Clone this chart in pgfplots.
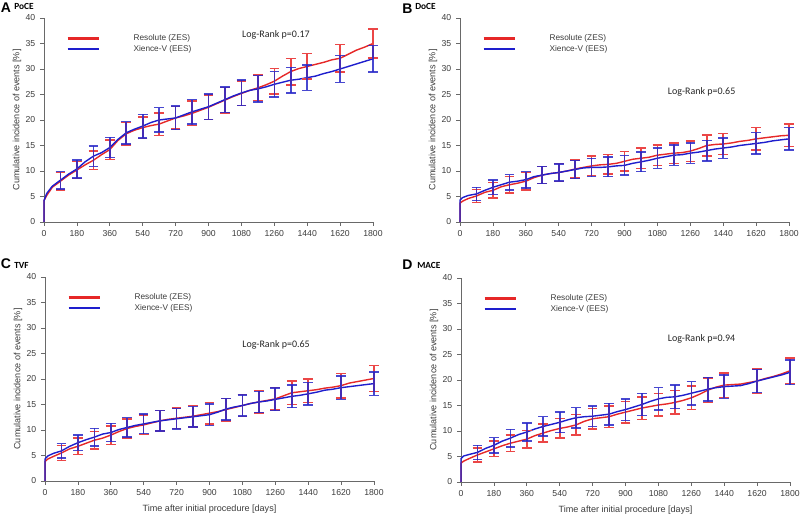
\documentclass[border=0pt]{standalone}
\usepackage{pgfplots}
\pgfplotsset{compat=1.18}
\usepackage{pgfplotstable}
\usepackage{fontspec}
\setmainfont{Liberation Sans}
\newfontfamily\calfont{Carlito}
\definecolor{kmred}{RGB}{230,40,40}
\definecolor{kmblue}{RGB}{30,30,205}
\definecolor{errred}{RGB}{235,70,70}
\definecolor{errblue}{RGB}{40,40,200}
\definecolor{txt}{RGB}{60,60,60}
\definecolor{axgray}{RGB}{105,105,105}

% curves: t, red (Resolute ZES), blue (Xience-V EES)
\pgfplotstableread{
t r b
0 0 0
0 4.2 4.2
15 5.2 5.6
45 6.8 7.0
90 8.0 8.2
135 9.2 9.4
180 10.2 10.4
225 11.2 11.8
270 12.1 12.9
315 13.2 13.6
360 14.2 14.6
405 16.0 16.2
450 17.3 17.5
495 18.0 18.2
540 18.5 18.8
585 18.9 19.5
630 19.2 20.0
675 19.8 20.2
720 20.4 20.4
765 20.8 21.0
810 21.3 21.6
855 21.9 22.1
900 22.5 22.6
945 23.2 23.3
990 23.9 24.0
1035 24.6 24.7
1080 25.2 25.3
1125 25.8 25.8
1170 26.3 26.1
1215 26.9 26.5
1260 27.6 27.0
1305 28.6 27.4
1350 29.5 27.8
1395 30.1 28.0
1440 30.5 28.3
1485 30.9 28.6
1530 31.3 29.1
1575 31.8 29.5
1620 32.1 30.0
1665 32.9 30.5
1710 33.7 31.0
1755 34.3 31.5
1800 35.0 32.0
}\curveA
\pgfplotstableread{
t r b
0 0 0
0 3.7 4.3
15 4.1 4.8
45 4.6 5.2
90 5.1 5.5
135 5.8 6.2
180 6.2 6.8
225 6.9 7.3
270 7.3 7.8
315 7.6 8.0
360 8.0 8.3
405 8.7 8.9
450 9.2 9.2
495 9.5 9.5
540 9.7 9.7
585 10.0 10.0
630 10.4 10.3
675 10.7 10.6
720 11.0 10.7
765 11.2 10.7
810 11.3 10.8
855 11.5 11.0
900 11.9 11.1
945 12.3 11.5
990 12.5 11.8
1035 12.7 12.1
1080 13.1 12.5
1125 13.3 12.8
1170 13.5 13.1
1215 13.6 13.2
1260 13.9 13.5
1305 14.4 13.7
1350 15.0 14.0
1395 15.2 14.3
1440 15.3 14.5
1485 15.5 14.7
1530 15.8 15.0
1575 16.0 15.2
1620 16.3 15.4
1665 16.5 15.6
1710 16.7 15.9
1755 16.9 16.1
1800 17.0 16.3
}\curveB
\pgfplotstableread{
t r b
0 0 0
0 3.8 4.3
15 4.3 4.9
45 4.8 5.4
90 5.5 5.9
135 6.3 6.8
180 6.8 7.5
225 7.4 8.1
270 8.0 8.6
315 8.4 9.2
360 9.0 9.5
405 9.7 10.1
450 10.3 10.5
495 10.7 10.9
540 11.0 11.2
585 11.4 11.5
630 11.8 11.8
675 12.1 12.0
720 12.3 12.2
765 12.5 12.4
810 12.7 12.6
855 13.0 12.8
900 13.3 13.0
945 13.6 13.5
990 14.0 14.1
1035 14.4 14.5
1080 14.8 14.8
1125 15.2 15.2
1170 15.5 15.5
1215 15.8 15.7
1260 16.1 16.0
1305 16.7 16.3
1350 17.3 16.6
1395 17.5 16.8
1440 17.7 17.1
1485 17.9 17.4
1530 18.2 17.8
1575 18.4 18.0
1620 18.7 18.3
1665 19.2 18.5
1710 19.5 18.7
1755 19.8 18.9
1800 20.1 19.1
}\curveC
\pgfplotstableread{
t r b
0 0 0
0 3.7 4.6
15 4.1 5.1
45 4.6 5.4
90 5.3 5.8
135 5.9 6.6
180 6.5 7.2
225 7.1 8.0
270 7.6 8.6
315 8.0 9.3
360 8.4 9.8
405 9.1 10.4
450 9.6 10.9
495 10.1 11.3
540 10.5 11.7
585 10.8 12.2
630 11.2 12.6
675 11.9 12.8
720 12.4 12.9
765 12.6 13.1
810 12.8 13.3
855 13.3 13.8
900 13.7 14.2
945 14.1 14.7
990 14.5 15.2
1035 14.8 15.8
1080 15.1 16.3
1125 15.3 16.6
1170 15.6 16.7
1215 16.0 17.0
1260 16.5 17.4
1305 17.2 17.8
1350 18.0 18.2
1395 18.6 18.5
1440 19.0 18.7
1485 19.1 18.8
1530 19.2 18.9
1575 19.5 19.3
1620 19.8 19.8
1665 20.3 20.2
1710 20.7 20.6
1755 21.2 21.0
1800 21.8 21.5
}\curveD

% error bars: t, red value, red error, blue value, blue error
\pgfplotstableread{
t r re b be
90 8.0 1.7 8.2 1.7
180 10.2 1.7 10.4 1.8
270 12.1 1.8 12.9 2.0
360 14.2 1.9 14.6 2.0
450 17.3 2.2 17.5 2.2
540 18.5 2.1 18.8 2.3
630 19.2 2.2 20.0 2.4
720 20.4 2.2 20.4 2.3
810 21.3 2.4 21.6 2.4
900 22.5 2.4 22.6 2.5
990 23.9 2.5 24.0 2.5
1080 25.2 2.4 25.3 2.5
1170 26.3 2.5 26.1 2.6
1260 27.6 2.5 27.0 2.5
1350 29.5 2.6 27.8 2.5
1440 30.5 2.5 28.3 2.5
1620 32.1 2.7 30.0 2.6
1800 35.0 2.8 32.0 2.6
}\errA
\pgfplotstableread{
t r re b be
90 5.1 1.3 5.5 1.3
180 6.2 1.5 6.8 1.4
270 7.3 1.6 7.8 1.5
360 8.0 1.7 8.3 1.6
450 9.2 1.7 9.2 1.7
540 9.7 1.8 9.7 1.7
630 10.4 1.8 10.3 1.8
720 11.0 1.9 10.7 1.8
810 11.3 1.9 10.8 1.9
900 11.9 1.9 11.1 1.9
990 12.5 2.0 11.8 1.9
1080 13.1 2.0 12.5 2.0
1170 13.5 2.0 13.1 2.0
1260 13.9 2.0 13.5 2.0
1350 15.0 2.1 14.0 2.0
1440 15.3 2.1 14.5 2.0
1620 16.3 2.2 15.4 2.1
1800 17.0 2.2 16.3 2.2
}\errB
\pgfplotstableread{
t r re b be
90 5.5 1.5 5.9 1.4
180 6.8 1.6 7.5 1.5
270 8.0 1.7 8.6 1.7
360 9.0 1.8 9.5 1.8
450 10.3 1.9 10.5 1.9
540 11.0 1.9 11.2 1.9
630 11.8 2.0 11.8 2.0
720 12.3 2.0 12.2 2.0
810 12.7 2.1 12.6 2.0
900 13.3 2.1 13.0 2.1
990 14.0 2.2 14.1 2.1
1080 14.8 2.2 14.8 2.1
1170 15.5 2.2 15.5 2.1
1260 16.1 2.2 16.0 2.2
1350 17.3 2.3 16.6 2.2
1440 17.7 2.3 17.1 2.2
1620 18.7 2.4 18.3 2.3
1800 20.1 2.5 19.1 2.3
}\errC
\pgfplotstableread{
t r re b be
90 5.3 1.4 5.8 1.4
180 6.5 1.5 7.2 1.5
270 7.6 1.6 8.6 1.7
360 8.4 1.7 9.8 1.8
450 9.6 1.8 10.9 1.9
540 10.5 1.9 11.7 2.0
630 11.2 2.0 12.6 2.0
720 12.4 2.0 12.9 2.0
810 12.8 2.1 13.3 2.1
900 13.7 2.1 14.2 2.1
990 14.5 2.2 15.2 2.2
1080 15.1 2.2 16.3 2.2
1170 15.6 2.3 16.7 2.3
1260 16.5 2.3 17.4 2.3
1350 18.0 2.4 18.2 2.3
1440 19.0 2.4 18.7 2.3
1620 19.8 2.4 19.8 2.3
1800 21.8 2.5 21.5 2.4
}\errD

\pgfplotsset{
  km/.style={
    scale only axis, width=246.75pt, height=153pt,
    anchor=south west,
    xmin=0, xmax=1800, ymin=0, ymax=40,
    axis x line*=bottom, axis y line*=left,
    axis line style={axgray, line width=0.6pt, -},
    xtick={0,180,...,1800}, ytick={0,5,...,40},
    tick align=outside, tick style={axgray, line width=0.5pt},
    major tick length=3pt,
    ticklabel style={font=\fontsize{6.5}{7.5}\selectfont, text=txt},
    /pgf/number format/assume math mode=true,
    /pgf/number format/1000 sep={},
    scaled ticks=false,
    ylabel={Cumulative incidence of events [\%]},
    ylabel style={at={(axis description cs:-0.082,0.5)}, anchor=center, font=\fontsize{6.8}{8}\selectfont, text=txt},
    xlabel style={at={(axis description cs:0.5,-0.137)}, anchor=center, font=\fontsize{6.8}{8}\selectfont, text=txt},
    legend style={at={(axis description cs:0.055,0.935)}, anchor=north west, draw=none, fill=none,
      font=\fontsize{6.2}{7}\selectfont, text=txt, row sep=1.2pt,
      nodes={inner sep=0pt, text height=5pt, text depth=1.5pt}},
    legend cell align=left,
    legend image code/.code={\draw[##1, line width=1.9pt] (0pt,0pt) -- (23.5pt,0pt);},
    clip=false,
  },
  curve/.style={sharp plot, line width=1.05pt, line join=round},
  errr/.style={draw=none, mark=none, forget plot,
    error bars/.cd, y dir=both, y explicit,
    error bar style={draw=errred, line width=1.2pt},
    error mark options={rotate=90, draw=errred, mark size=3.6pt, line width=1.1pt}},
  errb/.style={draw=none, mark=none, forget plot,
    error bars/.cd, y dir=both, y explicit,
    error bar style={draw=errblue, line width=1.2pt, draw opacity=0.85},
    error mark options={rotate=90, draw=errblue, mark size=3.6pt, line width=1.1pt, draw opacity=0.85}},
}
\newcommand{\lr}[1]{\calfont\fontsize{7.5}{9}\selectfont Log-Rank p=#1}

\begin{document}
\begin{tikzpicture}
\path[use as bounding box] (0pt,0pt) rectangle (600pt,387pt);

% Panel titles
\begin{scope}[x=0.75pt,y=0.75pt]
\node[anchor=base west, inner sep=0pt, font=\fontsize{10.5}{12}\selectfont\bfseries, text=black] at (0.5,503) {A};
\node[anchor=base west, inner sep=0pt, font=\calfont\fontsize{7}{8}\selectfont\bfseries, text=black] at (14,506) {PoCE};
\node[anchor=base west, inner sep=0pt, font=\fontsize{10.5}{12}\selectfont\bfseries, text=black] at (402,502) {B};
\node[anchor=base west, inner sep=0pt, font=\calfont\fontsize{7}{8}\selectfont\bfseries, text=black] at (415,506) {DoCE};
\node[anchor=base west, inner sep=0pt, font=\fontsize{10.5}{12}\selectfont\bfseries, text=black] at (0.5,247) {C};
\node[anchor=base west, inner sep=0pt, font=\calfont\fontsize{7}{8}\selectfont\bfseries, text=black] at (14,247) {TVF};
\node[anchor=base west, inner sep=0pt, font=\fontsize{10.5}{12}\selectfont\bfseries, text=black] at (402,246) {D};
\node[anchor=base west, inner sep=0pt, font=\calfont\fontsize{7}{8}\selectfont\bfseries, text=black] at (417,247) {MACE};
\end{scope}

% Panel A
\begin{axis}[km, at={(33pt,220.5pt)}]
\addplot[curve, kmred] table[x=t,y=r]{\curveA};
\addlegendentry{\hspace{25pt}Resolute (ZES)}
\addplot[curve, kmblue] table[x=t,y=b]{\curveA};
\addlegendentry{\hspace{25pt}Xience-V (EES)}
\addplot[errr] table[x=t,y=r,y error=re]{\errA};
\addplot[errb] table[x=t,y=b,y error=be]{\errA};
\node[anchor=west, inner sep=0pt, text=black!85] at (axis cs:1083,36.7) {\lr{0.17}};
\end{axis}

% Panel B
\begin{axis}[km, at={(345pt,220.5pt)}]
\addplot[curve, kmred] table[x=t,y=r]{\curveB};
\addlegendentry{\hspace{25pt}Resolute (ZES)}
\addplot[curve, kmblue] table[x=t,y=b]{\curveB};
\addlegendentry{\hspace{25pt}Xience-V (EES)}
\addplot[errr] table[x=t,y=r,y error=re]{\errB};
\addplot[errb] table[x=t,y=b,y error=be]{\errB};
\node[anchor=west, inner sep=0pt, text=black!85] at (axis cs:1136,25.6) {\lr{0.65}};
\end{axis}

% Panel C
\begin{axis}[km, at={(33.75pt,26.25pt)}, xlabel={Time after initial procedure [days]}]
\addplot[curve, kmred] table[x=t,y=r]{\curveC};
\addlegendentry{\hspace{25pt}Resolute (ZES)}
\addplot[curve, kmblue] table[x=t,y=b]{\curveC};
\addlegendentry{\hspace{25pt}Xience-V (EES)}
\addplot[errr] table[x=t,y=r,y error=re]{\errC};
\addplot[errb] table[x=t,y=b,y error=be]{\errC};
\node[anchor=west, inner sep=0pt, text=black!85] at (axis cs:1078,26.7) {\lr{0.65}};
\end{axis}

% Panel D
\begin{axis}[km, at={(345.75pt,25.5pt)}, xlabel={Time after initial procedure [days]}]
\addplot[curve, kmred] table[x=t,y=r]{\curveD};
\addlegendentry{\hspace{25pt}Resolute (ZES)}
\addplot[curve, kmblue] table[x=t,y=b]{\curveD};
\addlegendentry{\hspace{25pt}Xience-V (EES)}
\addplot[errr] table[x=t,y=r,y error=re]{\errD};
\addplot[errb] table[x=t,y=b,y error=be]{\errD};
\node[anchor=west, inner sep=0pt, text=black!85] at (axis cs:1130,28.1) {\lr{0.94}};
\end{axis}
\end{tikzpicture}
\end{document}
